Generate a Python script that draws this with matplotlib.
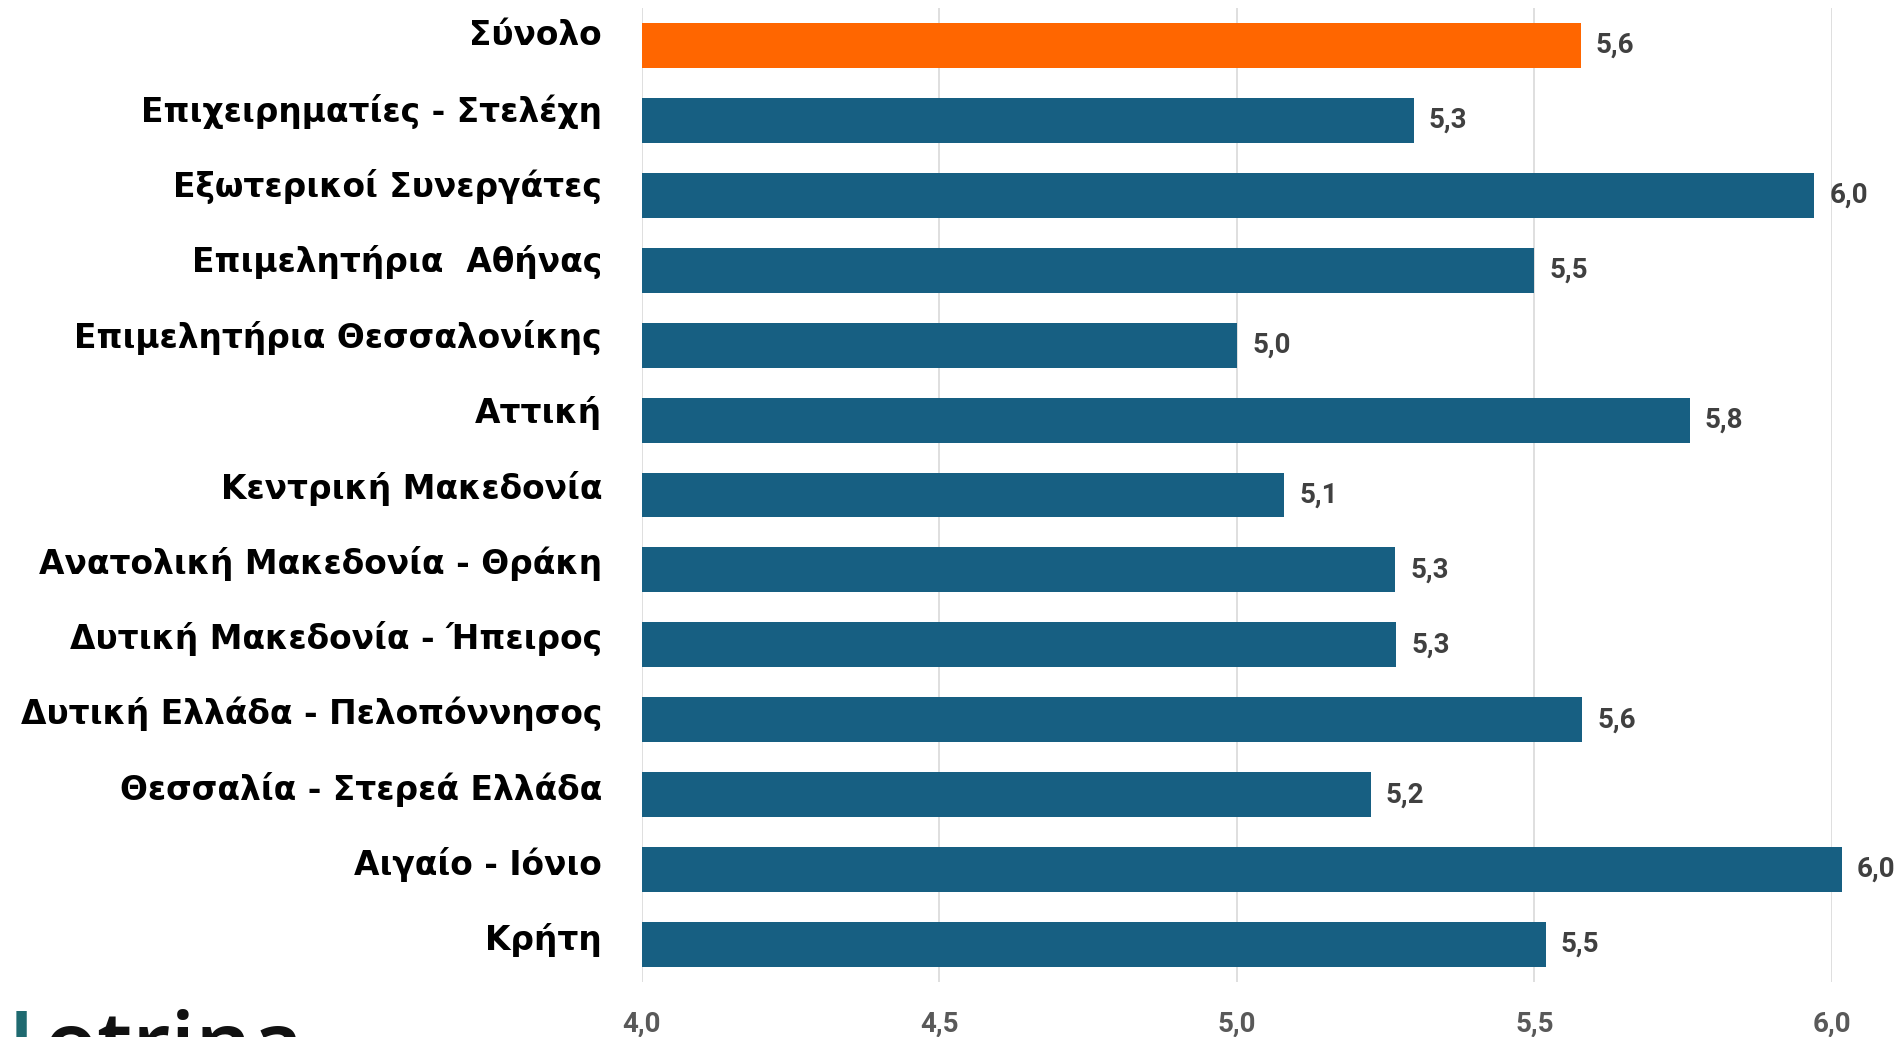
import matplotlib
matplotlib.use("Agg")
import matplotlib.pyplot as plt
import matplotlib.transforms as mtransforms

categories = [
    "Σύνολο",
    "Επιχειρηματίες - Στελέχη",
    "Εξωτερικοί Συνεργάτες",
    "Επιμελητήρια  Αθήνας",
    "Επιμελητήρια Θεσσαλονίκης",
    "Αττική",
    "Κεντρική Μακεδονία",
    "Ανατολική Μακεδονία - Θράκη",
    "Δυτική Μακεδονία - Ήπειρος",
    "Δυτική Ελλάδα - Πελοπόννησος",
    "Θεσσαλία - Στερεά Ελλάδα",
    "Αιγαίο - Ιόνιο",
    "Κρήτη",
]
values = [5.578, 5.297, 5.971, 5.50, 5.00, 5.761, 5.08, 5.266, 5.268, 5.580, 5.225, 6.017, 5.519]
bar_colors = ["#ff6600"] + ["#175f82"] * 12
x_ticks = [4.0, 4.5, 5.0, 5.5, 6.0]
x_ticklabels = ["4,0", "4,5", "5,0", "5,5", "6,0"]

W, H = 1901, 1037
fig = plt.figure(figsize=(W / 100, H / 100), dpi=100)
ax = fig.add_axes([642 / W, 1 - 982 / H, (1831.7 - 642) / W, (982 - 8) / H])

ypos = list(range(len(categories)))
bars = ax.barh(ypos, [v - 4.0 for v in values], left=4.0, height=0.6,
               color=bar_colors, zorder=3)
for b in bars:
    b.set_clip_on(False)

for y, v in zip(ypos, values):
    ax.annotate(f"{v:.1f}".replace(".", ","), xy=(v, y), xytext=(11, 0),
                textcoords="offset points", va="center", ha="left",
                fontsize=20, fontweight="bold", family="Roboto",
                color="#404040", annotation_clip=False)

ax.set_xlim(4.0, 6.0)
ax.set_ylim(12.5, -0.5)
ax.set_xticks(x_ticks)
ax.set_xticklabels(x_ticklabels, fontsize=20, fontweight="bold",
                   family="Roboto", color="#595959")
ax.set_yticks(ypos)
ax.set_yticklabels(categories, fontsize=23.7, fontweight="bold",
                   family="DejaVu Sans", color="black")
ax.tick_params(axis="both", length=0)
ax.tick_params(axis="x", pad=21)
ax.tick_params(axis="y", pad=28.8)

# labels sit a little above the bars, more so near the top
n = len(categories)
for i, lab in enumerate(ax.get_yticklabels()):
    dy = (8 + 5 * (n - 1 - i) / (n - 1)) / 100
    lab.set_transform(lab.get_transform() +
                      mtransforms.ScaledTranslation(0, dy, fig.dpi_scale_trans))

ax.grid(axis="x", color="#d9d9d9", linewidth=1.2, zorder=0)
ax.set_axisbelow(True)
for s in ax.spines.values():
    s.set_visible(False)

# logo text cut off at the bottom edge
fig.text(8 / W, 1 - 1007 / H, "I", fontsize=64, color="#1f6a70",
         family="Open Sans", fontweight="semibold", va="top", ha="left")
fig.text(44 / W, 1 - 1007 / H, "otrina", fontsize=64, color="#111111",
         family="Open Sans", fontweight="semibold", va="top", ha="left")

fig.savefig("out.png", dpi=100)
